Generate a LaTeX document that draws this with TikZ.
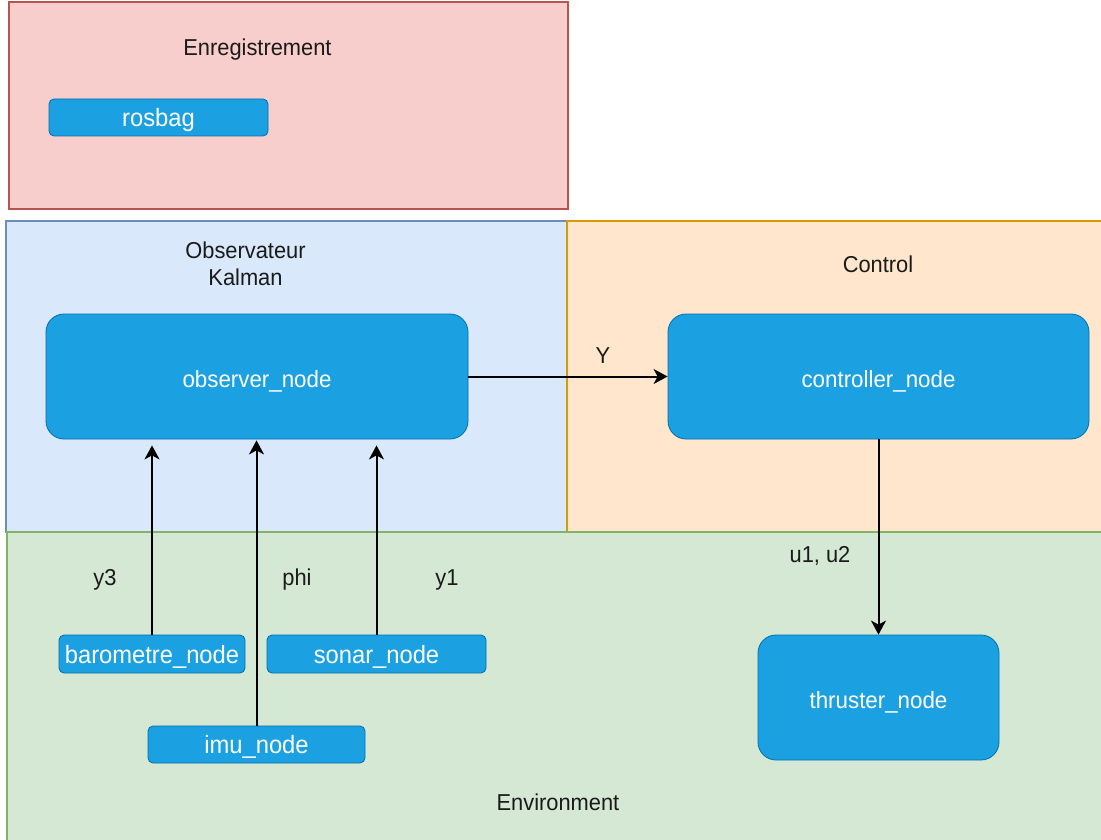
\documentclass[tikz,border=0pt]{standalone}
\usepackage{fontspec}
\setmainfont{Liberation Sans}[FakeStretch=0.95]
\usetikzlibrary{arrows.meta}
\definecolor{nodefill}{HTML}{1BA1E2}
\definecolor{nodestroke}{HTML}{006EAF}
\definecolor{redfill}{HTML}{F8CECC}
\definecolor{redstroke}{HTML}{B85450}
\definecolor{bluefill}{HTML}{DAE8FC}
\definecolor{bluestroke}{HTML}{6C8EBF}
\definecolor{orfill}{HTML}{FFE6CC}
\definecolor{orstroke}{HTML}{D79B00}
\definecolor{grfill}{HTML}{D5E8D4}
\definecolor{grstroke}{HTML}{82B366}
\definecolor{labeltext}{HTML}{1A1A1A}
\tikzset{
  bignode/.style={draw=nodestroke, fill=nodefill, rounded corners=18pt, text=white,
    font=\fontsize{23.5}{27}\selectfont, inner sep=0pt, line width=0.8pt,
    text height=21pt, text depth=0pt},
  smallnode/.style={draw=nodestroke, fill=nodefill, rounded corners=5pt, text=white,
    font=\fontsize{25}{29}\selectfont, inner sep=0pt, line width=0.8pt,
    text height=18pt, text depth=0pt},
  lbl/.style={text=labeltext, font=\fontsize{23}{27}\selectfont, inner sep=0pt, anchor=base},
  conn/.style={draw=black, line width=2pt, -{Stealth[length=14pt,width=15pt,inset=4pt]}},
  container/.style={line width=1.6pt}
}
\begin{document}
\begin{tikzpicture}[x=1pt,y=-1pt]
\clip (0,0) rectangle (1101,840);
\fill[white] (0,0) rectangle (1101,840);
% containers
\draw[container, fill=redfill, draw=redstroke] (9,2) rectangle (568,209);
\draw[container, fill=bluefill, draw=bluestroke] (6,221) rectangle (568,532);
\draw[container, fill=orfill, draw=orstroke] (567,221) rectangle (1112,532);
\draw[container, fill=grfill, draw=grstroke] (7,532) rectangle (1112,852);
% container labels
\node[lbl] (lenr) at (257.5,56) {Enregistrement};
\node[lbl] (lobs1) at (245.5,258) {Observateur};
\node[lbl] (lobs2) at (245.5,285) {Kalman};
\node[lbl] (lctrl) at (878,272) {Control};
\node[lbl] (lenv) at (558,810) {Environment};
% nodes
\node[smallnode, minimum width=219pt, minimum height=37pt] (rosbag) at (158.5,117.5) {rosbag};
\node[bignode, minimum width=422pt, minimum height=125pt] (obs) at (257,376.5) {observer\_node};
\node[bignode, minimum width=421pt, minimum height=125pt] (ctrl) at (878.5,376.5) {controller\_node};
\node[bignode, minimum width=241pt, minimum height=125pt] (thr) at (878.5,697.5) {thruster\_node};
\node[smallnode, minimum width=186pt, minimum height=38pt] (baro) at (152,654) {barometre\_node};
\node[smallnode, minimum width=219pt, minimum height=38pt] (sonar) at (376.5,654) {sonar\_node};
\node[smallnode, minimum width=217pt, minimum height=37pt] (imu) at (256.5,744.5) {imu\_node};
% connectors
\draw[conn] (obs.east) -- (ctrl.west);
\draw[conn] (ctrl.south) -- (thr.north);
\draw[conn, shorten >=6pt] (baro.north) -- (baro.north |- obs.south);
\draw[conn, shorten >=6pt] (sonar.north) -- (sonar.north |- obs.south);
\draw[conn, shorten >=1pt] (imu.north) -- (imu.north |- obs.south);
% connector labels
\node[lbl] (lY) at (603,363) {Y};
\node[lbl] (lu) at (820,562) {u1, u2};
\node[lbl] (ly3) at (105,585) {y3};
\node[lbl] (lphi) at (297,585) {phi};
\node[lbl] (ly1) at (447,585) {y1};
\end{tikzpicture}
\end{document}
